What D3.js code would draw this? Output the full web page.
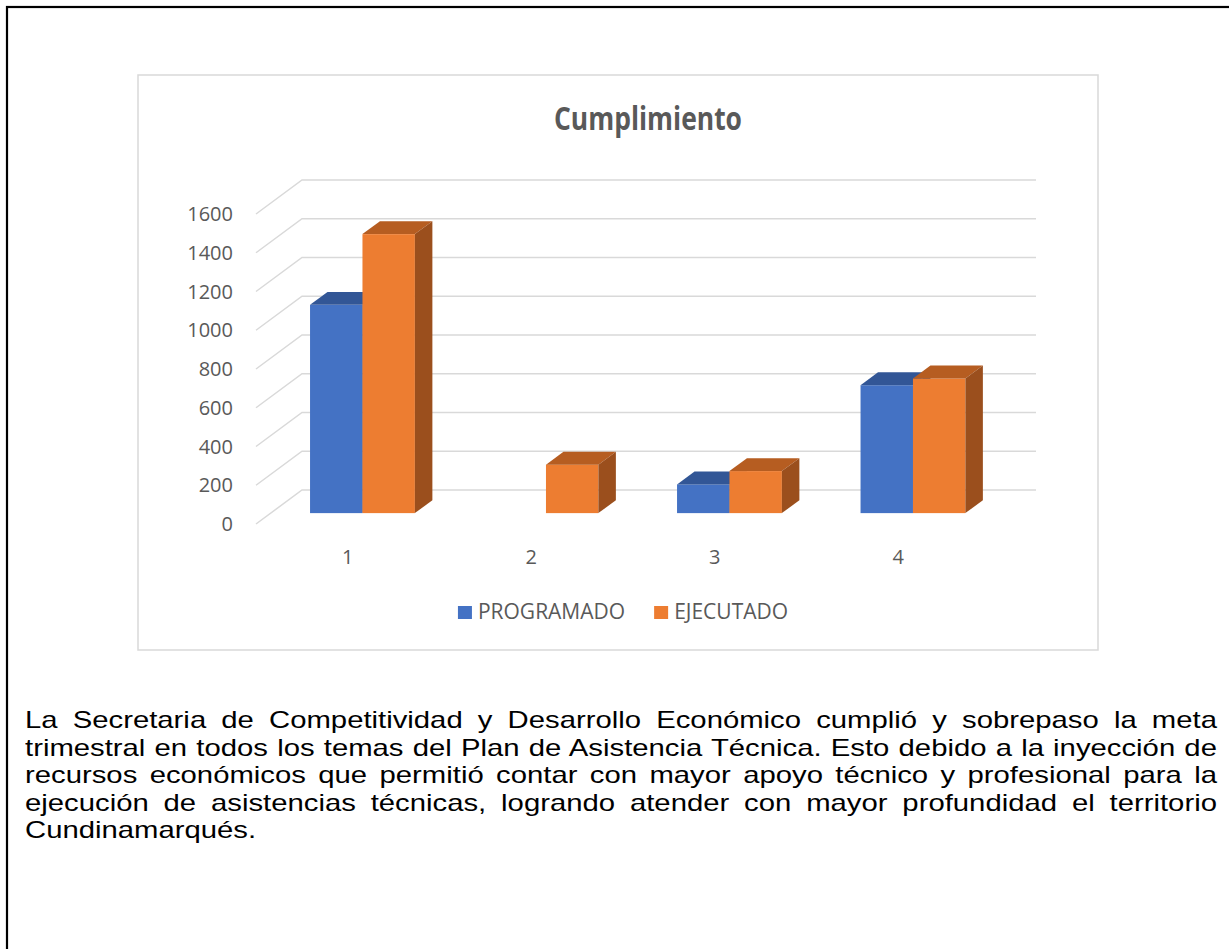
<!DOCTYPE html>
<html>
<head>
<meta charset="utf-8">
<script src="https://cdn.jsdelivr.net/npm/d3@7"></script>
<style>
  html, body { margin: 0; padding: 0; background: #fff; }
  body { width: 1229px; height: 949px; overflow: hidden; position: relative; }
  svg { position: absolute; left: 0; top: 0; }
  #para {
    position: absolute; left: 25px; top: 706px; width: 977px;
    transform: scaleX(1.22); transform-origin: 0 0;
    font-family: "Liberation Sans", Arial, sans-serif; font-size: 24px;
    line-height: 27.5px; color: #000;
  }
  #para .ln { text-align: justify; text-align-last: justify; white-space: nowrap; }
  #para .ln.last { text-align-last: left; }
</style>
</head>
<body>
<svg id="chart" width="1229" height="949"></svg>
<div id="para"></div>
<script>
// ---- data ----
const categories = ["1", "2", "3", "4"];
const seriesNames = ["PROGRAMADO", "EJECUTADO"];
const programado = [1075, 0, 148, 660];
const ejecutado = [1440, 250, 217, 695];
const yTicks = [0, 200, 400, 600, 800, 1000, 1200, 1400, 1600];
const titleText = "Cumplimiento";
const paragraphLines = [
  "La Secretaria de Competitividad y Desarrollo Económico cumplió y sobrepaso la meta",
  "trimestral en todos los temas del Plan de Asistencia Técnica. Esto debido a la inyección de",
  "recursos económicos que permitió contar con mayor apoyo técnico y profesional para la",
  "ejecución de asistencias técnicas, logrando atender con mayor profundidad el territorio",
  "Cundinamarqués."
];

// ---- styles ----
const colors = {
  PROGRAMADO: { front: "#4472C4", top: "#325696", side: "#2c4d87" },
  EJECUTADO: { front: "#ED7D31", top: "#b65d21", side: "#9b4f1d" }
};
const textGray = "#595959";
const gridGray = "#d9d9d9";

const svg = d3.select("#chart");

// outer page frame
svg.append("rect").attr("x", 7).attr("y", 7).attr("width", 1240).attr("height", 1000)
  .attr("fill", "none").attr("stroke", "#000").attr("stroke-width", 2.2);

// chart box
svg.append("rect").attr("x", 138).attr("y", 75).attr("width", 960).attr("height", 575)
  .attr("fill", "#fff").attr("stroke", gridGray).attr("stroke-width", 1.5);

// title
svg.append("text").attr("x", 648).attr("y", 130).attr("text-anchor", "middle")
  .attr("font-family", "'Open Sans', sans-serif").attr("font-weight", "bold")
  .attr("font-size", 32).attr("fill", textGray)
  .attr("textLength", 188).attr("lengthAdjust", "spacingAndGlyphs")
  .text(titleText);

// ---- 3D geometry ----
const floorY = 524;        // front edge y at value 0
const depthDX = 46, depthDY = 34;
const plotLeft = 256, plotRight = 990;
const t0 = 0.32, t1 = 0.70;  // bar depth (front / back) as fraction of floor depth

const yScale = d3.scaleLinear().domain([0, 1600]).range([0, 310]);
const x0 = d3.scaleBand().domain(categories).range([plotLeft, plotRight]).padding(0);
const x1 = d3.scaleBand().domain(seriesNames).range([0, x0.bandwidth()])
  .paddingInner(0).paddingOuter(0.75);

// gridlines (side wall + back wall)
const grid = svg.append("g");
yTicks.forEach(v => {
  const h = yScale(v);
  grid.append("path")
    .attr("d", `M${plotLeft},${floorY - h} L${plotLeft + depthDX},${floorY - depthDY - h} L${plotRight + depthDX},${floorY - depthDY - h}`)
    .attr("fill", "none").attr("stroke", gridGray).attr("stroke-width", 1.5);
});

// y tick labels
svg.append("g").selectAll("text").data(yTicks).join("text")
  .attr("x", 233).attr("y", d => floorY - yScale(d)).attr("dy", "0.36em")
  .attr("text-anchor", "end")
  .attr("font-family", "'Open Sans', sans-serif").attr("font-size", 20)
  .attr("fill", textGray).text(d => d);

// category labels
svg.append("g").selectAll("text").data(categories).join("text")
  .attr("x", d => x0(d) + x0.bandwidth() / 2).attr("y", 557).attr("dy", "0.36em")
  .attr("text-anchor", "middle")
  .attr("font-family", "'Open Sans', sans-serif").attr("font-size", 20)
  .attr("fill", textGray).text(d => d);

// bars
const values = { PROGRAMADO: programado, EJECUTADO: ejecutado };
const bdx = (t1 - t0) * depthDX, bdy = (t1 - t0) * depthDY;
const barsG = svg.append("g");
categories.forEach((c, i) => {
  seriesNames.forEach(s => {
    const v = values[s][i];
    if (!(v > 0)) return;
    const w = x1.bandwidth();
    const x = x0(c) + x1(s) + t0 * depthDX;
    const yb = floorY - t0 * depthDY;
    const yt = yb - yScale(v);
    const g = barsG.append("g");
    g.append("rect").attr("x", x).attr("y", yt).attr("width", w).attr("height", yb - yt)
      .attr("fill", colors[s].front);
    g.append("path")
      .attr("d", `M${x},${yt} L${x + w},${yt} L${x + w + bdx},${yt - bdy} L${x + bdx},${yt - bdy} Z`)
      .attr("fill", colors[s].top);
    g.append("path")
      .attr("d", `M${x + w},${yt} L${x + w + bdx},${yt - bdy} L${x + w + bdx},${yb - bdy} L${x + w},${yb} Z`)
      .attr("fill", colors[s].side);
  });
});

// legend
const legend = svg.append("g");
let lx = 0;
seriesNames.forEach((s, i) => {
  const g = legend.append("g");
  g.append("rect").attr("x", 0).attr("y", -13).attr("width", 14).attr("height", 13)
    .attr("fill", colors[s].front);
  const t = g.append("text").attr("x", 20).attr("y", 0)
    .attr("font-family", "'Open Sans', sans-serif").attr("font-size", 21)
    .attr("fill", textGray).text(s);
  const tw = t.node().getComputedTextLength();
  g.attr("transform", `translate(${lx},619)`);
  lx += 20 + tw + 29;
});
const totalW = lx - 29;
legend.attr("transform", `translate(${623 - totalW / 2},0)`);

// paragraph (justified lines as in the source document)
d3.select("#para").selectAll("div").data(paragraphLines).join("div")
  .attr("class", (d, i) => i === paragraphLines.length - 1 ? "ln last" : "ln")
  .text(d => d);
</script>
</body>
</html>
